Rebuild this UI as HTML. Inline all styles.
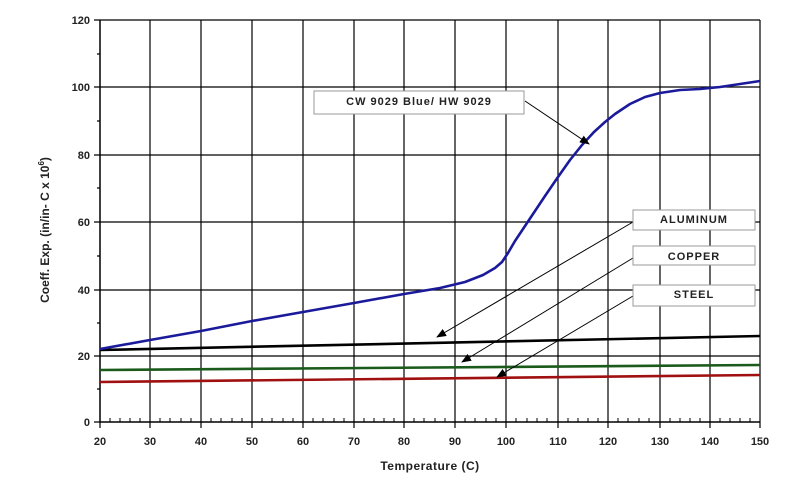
<!DOCTYPE html>
<html><head><style>body{margin:0;background:#fff}svg{display:block}</style></head><body>
<svg width="800" height="479" viewBox="0 0 800 479" xmlns="http://www.w3.org/2000/svg" font-family="Liberation Sans, sans-serif">
<defs><marker id="ar" markerWidth="10" markerHeight="8" refX="9" refY="4" orient="auto" markerUnits="userSpaceOnUse"><path d="M0,0 L10,4 L0,8 z" fill="#000"/></marker></defs>
<g stroke="#000" stroke-width="1.2" fill="none">
<path d="M100,20H760 M100,87H760 M100,155H760 M100,222H760 M100,290H760 M100,356H760"/>
<path d="M150,20V422 M201,20V422 M252,20V422 M303,20V422 M354,20V422 M404,20V422 M455,20V422 M506,20V422 M558,20V422 M608,20V422 M660,20V422 M710,20V422 M760,20V422"/>
<path d="M100,20V422H760" stroke-width="1.5"/>
<path d="M94,20H100 M94,87H100 M94,155H100 M94,222H100 M94,290H100 M94,356H100 M94,422H100 M97,54H100 M97,121H100 M97,188H100 M97,256H100 M97,323H100 M97,389H100"/>
<path d="M100,428V422 M150,428V422 M201,428V422 M252,428V422 M303,428V422 M354,428V422 M404,428V422 M455,428V422 M506,428V422 M558,428V422 M608,428V422 M660,428V422 M710,428V422 M760,428V422"/>
</g>
<g stroke="#000" stroke-width="1">
<path d="M110,422V418 M120,422V418 M130,422V418 M140,422V418 M160,422V418 M170,422V418 M181,422V418 M191,422V418 M211,422V418 M221,422V418 M232,422V418 M242,422V418 M262,422V418 M272,422V418 M283,422V418 M293,422V418 M313,422V418 M323,422V418 M334,422V418 M344,422V418 M364,422V418 M374,422V418 M384,422V418 M394,422V418 M414,422V418 M424,422V418 M435,422V418 M445,422V418 M465,422V418 M475,422V418 M486,422V418 M496,422V418 M516,422V418 M527,422V418 M537,422V418 M547,422V418 M568,422V418 M578,422V418 M588,422V418 M598,422V418 M618,422V418 M628,422V418 M639,422V418 M649,422V418 M670,422V418 M680,422V418 M690,422V418 M700,422V418 M720,422V418 M730,422V418 M740,422V418 M750,422V418"/>
</g>
<g font-size="11" font-weight="bold" fill="#222" text-anchor="end">
<text x="90" y="24">120</text><text x="90" y="91">100</text><text x="90" y="159">80</text><text x="90" y="226">60</text><text x="90" y="294">40</text><text x="90" y="360">20</text><text x="90" y="426">0</text>
</g>
<g font-size="11" font-weight="bold" fill="#222" text-anchor="middle">
<text x="100" y="445">20</text><text x="150" y="445">30</text><text x="201" y="445">40</text><text x="252" y="445">50</text><text x="303" y="445">60</text><text x="354" y="445">70</text><text x="404" y="445">80</text><text x="455" y="445">90</text><text x="506" y="445">100</text><text x="558" y="445">110</text><text x="608" y="445">120</text><text x="660" y="445">130</text><text x="710" y="445">140</text><text x="760" y="445">150</text>
</g>
<text x="430" y="470" font-size="12" font-weight="bold" text-anchor="middle" fill="#222" letter-spacing="0.5">Temperature (C)</text>
<text transform="translate(49,230) rotate(-90)" font-size="12" font-weight="bold" text-anchor="middle" fill="#222">Coeff. Exp. (in/in- C x 10<tspan dy="-5" font-size="8">6</tspan><tspan dy="5">)</tspan></text>
<path d="M100,350 L760,336" stroke="#000" stroke-width="2.6" fill="none"/>
<path d="M100,370 L760,365" stroke="#1a5a1a" stroke-width="2.6" fill="none"/>
<path d="M100,382 L760,375" stroke="#a01010" stroke-width="2.6" fill="none"/>
<polyline points="100,349 150,340 201,331 252,321 303,312 354,303 404,294 440,288 465,282 483,275 495,268 502,262 508,253 515,241 525,226 533,214 545,196 558,177 570,160 582,145 594,132 605,122 615,114 630,104 645,97 660,93 680,90 700,89 720,87 740,84 760,81" stroke="#1a1a9a" stroke-width="2.6" fill="none" stroke-linejoin="round"/>
<g stroke="#000" stroke-width="1" fill="none">
<path d="M525,101 L589,144" marker-end="url(#ar)"/>
<path d="M633,222 L437,337" marker-end="url(#ar)"/>
<path d="M633,258 L462,362" marker-end="url(#ar)"/>
<path d="M633,296 L497,377" marker-end="url(#ar)"/>
</g>
<g fill="#fff" stroke="#999" stroke-width="1">
<rect x="314" y="91" width="210" height="23"/>
<rect x="633" y="210" width="122" height="20"/>
<rect x="633" y="246" width="122" height="19"/>
<rect x="633" y="285" width="122" height="21"/>
</g>
<g font-size="11" font-weight="bold" fill="#222" text-anchor="middle" letter-spacing="1">
<text x="419" y="105">CW 9029 Blue/ HW 9029</text>
<text x="694" y="223">ALUMINUM</text>
<text x="694" y="260">COPPER</text>
<text x="694" y="298">STEEL</text>
</g>
</svg>
</body></html>
